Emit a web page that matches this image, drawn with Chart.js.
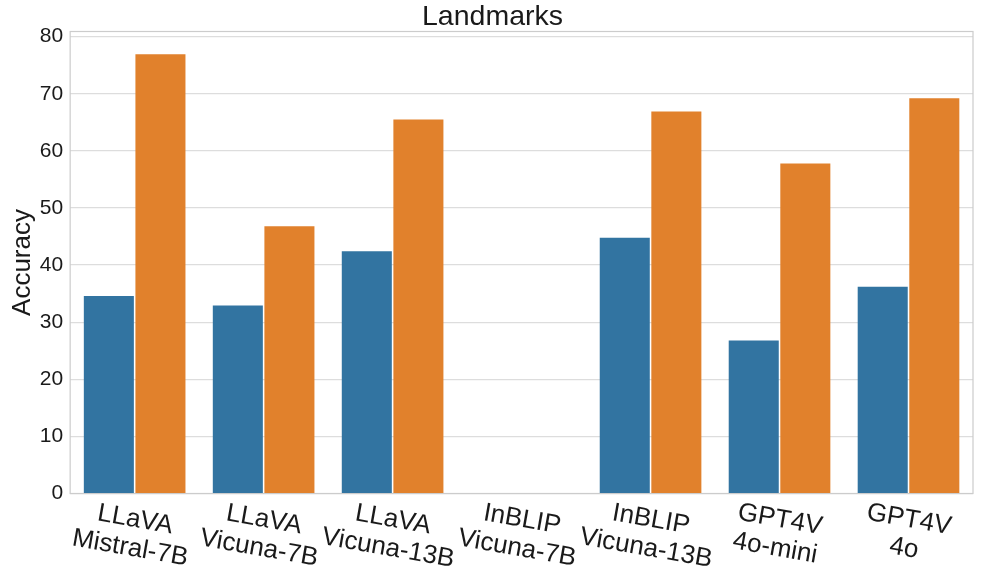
<!DOCTYPE html>
<html>
<head>
<meta charset="utf-8">
<script src="https://cdn.jsdelivr.net/npm/chart.js@4"></script>
<style>
  body { margin: 0; background: #fff; }
  #wrap { width: 986px; height: 576px; }
</style>
</head>
<body>
<div id="wrap"><canvas id="chart" width="986" height="576"></canvas></div>
<script>
const categories = [
    ['LLaVA', 'Mistral-7B'],
    ['LLaVA', 'Vicuna-7B'],
    ['LLaVA', 'Vicuna-13B'],
    ['InBLIP', 'Vicuna-7B'],
    ['InBLIP', 'Vicuna-13B'],
    ['GPT4V', '4o-mini'],
    ['GPT4V', '4o']
];
const blueValues = [34.6, 32.9, 42.4, 0, 44.8, 26.8, 36.2];
const orangeValues = [76.9, 46.8, 65.5, 0, 66.9, 57.8, 69.2];
const yTicks = [0, 10, 20, 30, 40, 50, 60, 70, 80];

const FONT = "'Liberation Sans', Arial, sans-serif";

// frame around the plot area, like seaborn whitegrid
const framePlugin = {
    id: 'frame',
    beforeDatasetsDraw(chart) {
        const a = chart.chartArea;
        const ctx = chart.ctx;
        ctx.save();
        ctx.strokeStyle = '#cccccc';
        ctx.lineWidth = 1.2;
        ctx.strokeRect(a.left, a.top, a.right - a.left, a.bottom - a.top);
        ctx.restore();
    }
};

// tilted, centred two-line category labels
const xLabelPlugin = {
    id: 'xlabels',
    afterDraw(chart) {
        const scale = chart.scales.x;
        const ctx = chart.ctx;
        const lineH = 29;
        ctx.save();
        ctx.font = '26px ' + FONT;
        ctx.fillStyle = '#1a1a1a';
        ctx.textAlign = 'center';
        ctx.textBaseline = 'middle';
        categories.forEach((lines, i) => {
            const x = scale.getPixelForTick(i) + 3;
            const y = chart.chartArea.bottom + 12;
            ctx.save();
            ctx.translate(x, y);
            ctx.rotate(10 * Math.PI / 180);
            lines.forEach((t, j) => {
                ctx.fillText(t, 0, lineH * (j + 0.5));
            });
            ctx.restore();
        });
        ctx.restore();
    }
};

new Chart(document.getElementById('chart').getContext('2d'), {
    type: 'bar',
    data: {
        labels: categories,
        datasets: [{
            data: blueValues,
            backgroundColor: '#3274a1',
            borderWidth: 0,
            barPercentage: 0.97,
            categoryPercentage: 0.8
        }, {
            data: orangeValues,
            backgroundColor: '#e1812c',
            borderWidth: 0,
            barPercentage: 0.97,
            categoryPercentage: 0.8
        }]
    },
    options: {
        responsive: false,
        animation: false,
        devicePixelRatio: 1,
        layout: { padding: { left: 12, right: 13, top: 0, bottom: 74.5 } },
        plugins: {
            legend: { display: false },
            tooltip: { enabled: false },
            title: {
                display: true,
                text: 'Landmarks',
                color: '#1a1a1a',
                font: { family: FONT, size: 28.5, weight: 'normal', lineHeight: 1 },
                padding: { top: 3, bottom: 0 }
            }
        },
        scales: {
            x: {
                grid: { display: false },
                border: { display: false },
                ticks: { display: false }
            },
            y: {
                min: 0,
                max: 80.9,
                afterBuildTicks(scale) {
                    scale.ticks = yTicks.map(v => ({ value: v }));
                },
                grid: { color: '#dddddd', lineWidth: 1.2, drawTicks: false },
                border: { display: false },
                ticks: {
                    color: '#1a1a1a',
                    padding: 7,
                    font: { family: FONT, size: 21 }
                },
                title: {
                    display: true,
                    text: 'Accuracy',
                    color: '#1a1a1a',
                    font: { family: FONT, size: 26, lineHeight: 0.8 },
                    padding: 0
                }
            }
        }
    },
    plugins: [framePlugin, xLabelPlugin]
});
</script>
</body>
</html>
